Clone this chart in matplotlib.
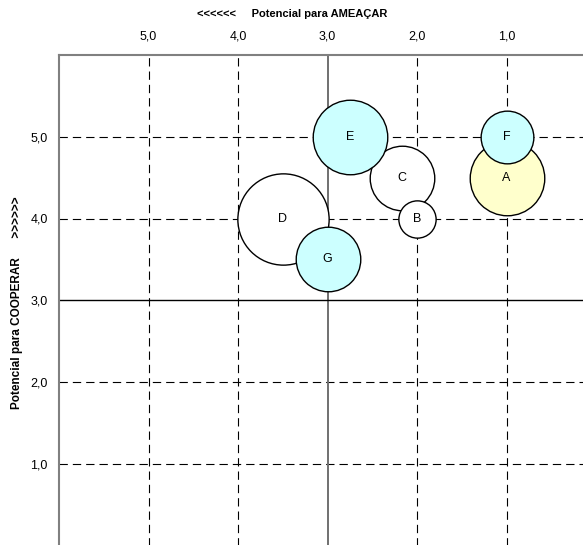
import matplotlib
matplotlib.use("Agg")
import matplotlib.pyplot as plt

plt.rcParams['font.family'] = ['Liberation Sans', 'DejaVu Sans']

labels = ["A", "B", "C", "D", "E", "F", "G"]
ameacar = [1.0, 2.0, 2.17, 3.5, 2.75, 1.0, 3.0]
cooperar = [4.5, 4.0, 4.5, 4.0, 5.0, 5.0, 3.5]
sizes = [4, 1, 3, 6, 4, 2, 3]
colors = ["#FFFFCC", "#FFFFFF", "#FFFFFF", "#FFFFFF", "#CCFFFF", "#CCFFFF", "#CCFFFF"]
draw_order = [0, 2, 3, 1, 4, 5, 6]

grid_vals = [1, 2, 4, 5]
tick_vals = [5, 4, 3, 2, 1]
tick_labels = ["5,0", "4,0", "3,0", "2,0", "1,0"]
ytick_vals = [5, 4, 3, 2, 1]
ytick_labels = ["5,0", "4,0", "3,0", "2,0", "1,0"]

fig = plt.figure(figsize=(5.83, 5.45), dpi=100)
W, H = 583, 545
left_px, right_px = 59, 596
top_px, bottom_px = 55, 545.5
ax = fig.add_axes([left_px / W, (H - bottom_px) / H,
                   (right_px - left_px) / W, (bottom_px - top_px) / H])
ax.set_xlim(6, 0)
ax.set_ylim(0, 6)

for s in ["right", "bottom"]:
    ax.spines[s].set_visible(False)
for s in ["left", "top"]:
    ax.spines[s].set_color("#808080")
    ax.spines[s].set_linewidth(1.5)

dash = (0, (7.5, 4.5))
for v in grid_vals:
    ax.axvline(v, color="black", lw=0.8, linestyle=dash, zorder=1)
    ax.axhline(v, color="black", lw=0.8, linestyle=dash, zorder=1)
ax.axvline(3, color="#707070", lw=1.4, zorder=1.5)
ax.axhline(3, color="black", lw=1.0, zorder=1.5)

k = 720
for z, i in enumerate(draw_order):
    ax.scatter(ameacar[i], cooperar[i], s=sizes[i] * k, facecolor=colors[i],
               edgecolor="black", linewidth=1.0, zorder=3 + z, clip_on=False)
    ax.text(ameacar[i], cooperar[i], labels[i], ha="center", va="center",
            fontsize=9, zorder=3 + z + 0.5)

ax.xaxis.tick_top()
ax.set_xticks(tick_vals)
ax.set_xticklabels(tick_labels, fontsize=9)
ax.set_yticks(ytick_vals)
ax.set_yticklabels(ytick_labels, fontsize=9)
ax.tick_params(axis="both", length=0, pad=8)
ax.tick_params(axis="x", pad=9)

fig.text(292 / W, 1 - 14 / H, "<<<<<<     Potencial para AMEAÇAR", ha="center",
         va="center", fontsize=8, fontweight="bold")
fig.text(17 / W, 1 - 303 / H, "Potencial para COOPERAR      >>>>>>", ha="center",
         va="center", fontsize=8.5, fontweight="bold", rotation=90)

fig.savefig("out.png", dpi=100)
